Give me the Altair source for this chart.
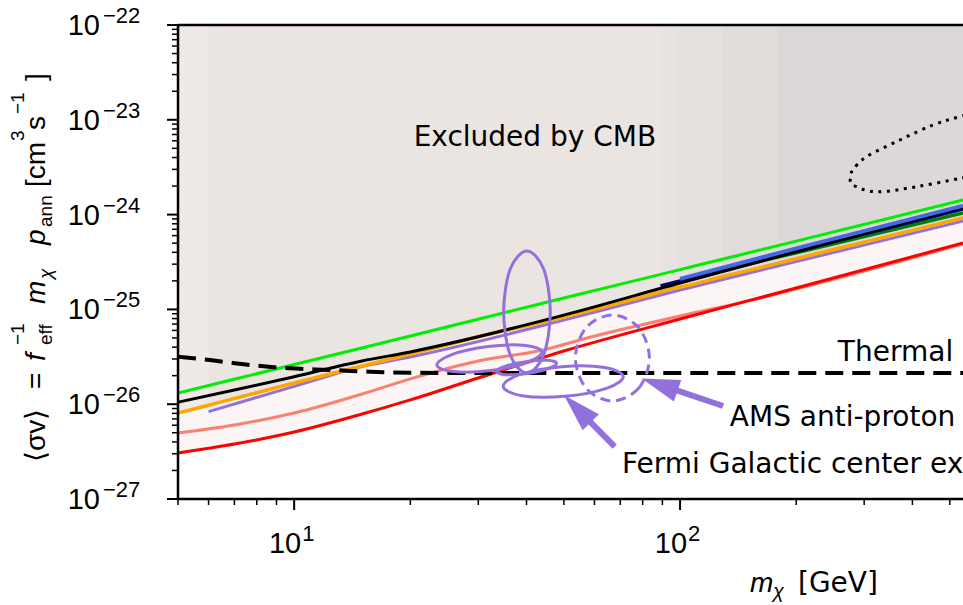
import altair as alt
import pandas as pd

# ------------------------------------------------------------------ data
green_m = [5, 10, 20, 50, 100, 200, 541]
green_sv = [1.31e-26, 2.62e-26, 5.24e-26, 1.32e-25, 2.63e-25, 5.25e-25, 1.43e-24]
black_m = [5, 7, 10, 15, 20, 50, 100, 200, 541]
black_sv = [1.05e-26, 1.41e-26, 1.95e-26, 2.86e-26, 3.56e-26, 8.7e-26, 1.9e-25, 4.06e-25, 1.20e-24]
orange_m = [5, 6, 7, 10, 15, 20, 30, 50, 89, 98, 100, 129, 179, 200, 300, 541]
orange_sv = [8.07e-27, 9.76e-27, 1.148e-26, 1.673e-26, 2.53e-26, 3.385e-26, 5.115e-26, 8.31e-26,
             1.52e-25, 1.70e-25, 1.722e-25, 2.22e-25, 3.056e-25, 3.425e-25, 5.13e-25, 9.21e-25]
purple_m = [6, 10, 15, 20, 50, 100, 200, 541]
purple_sv = [8.34e-27, 1.54e-26, 2.5e-26, 3.15e-26, 7.7e-26, 1.6e-25, 3.2e-25, 8.55e-25]
salmon_m = [5, 7, 10, 15, 20, 30, 44.2, 57.4, 100, 154.5, 200, 541]
salmon_sv = [4.97e-27, 6.04e-27, 8.07e-27, 1.28e-26, 1.85e-26, 2.86e-26, 3.73e-26, 4.99e-26,
             8.51e-26, 1.26e-25, 1.64e-25, 4.9e-25]
red_m = [5, 7, 10, 15, 20, 30, 50, 100, 200, 541]
red_sv = [3.06e-27, 3.80e-27, 5.09e-27, 7.88e-27, 1.11e-26, 1.89e-26, 3.64e-26, 7.92e-26, 1.68e-25, 5.01e-25]
navy_m = [89, 200, 541]
navy_sv = [1.77e-25, 4.09e-25, 1.15e-24]
blue_m = [100, 200, 541]
blue_sv = [2.10e-25, 4.40e-25, 1.24e-24]
dgreen_m = [129, 200, 541]
dgreen_sv = [2.6e-25, 3.96e-25, 1.04e-24]
thermal_m = [5, 6.05, 7.68, 9.75, 12.4, 15.7, 20, 28.5, 541]
thermal_sv = [3.17e-26, 2.92e-26, 2.59e-26, 2.39e-26, 2.30e-26, 2.20e-26, 2.15e-26, 2.13e-26, 2.13e-26]

# Fermi GC excess fit contours
fermi_ids = ["a"] * 8 + ["b"] * 8 + ["c"] * 8 + ["d"] * 8
fermi_m = [40.1, 44.3, 46.1, 44.3, 40.1, 36.3, 34.9, 36.3,
           43.85, 40.27, 32.35, 25.86, 23.44, 25.53, 31.78, 39.74,
           47.87, 45.59, 40.22, 35.40, 33.46, 35.15, 39.83, 45.27,
           71.23, 64.47, 50.17, 38.87, 34.82, 38.46, 49.43, 63.77]
fermi_sv = [4.13e-25, 2.67e-25, 9.39e-26, 3.30e-26, 2.13e-26, 3.30e-26, 9.39e-26, 2.67e-25,
            3.57e-26, 2.77e-26, 2.27e-26, 2.21e-26, 2.58e-26, 3.32e-26, 4.05e-26, 4.17e-26,
            2.70e-26, 2.37e-26, 2.11e-26, 2.05e-26, 2.20e-26, 2.51e-26, 2.81e-26, 2.90e-26,
            1.96e-26, 1.47e-26, 1.21e-26, 1.23e-26, 1.54e-26, 2.06e-26, 2.49e-26, 2.44e-26]
# AMS anti-proton contour
ams_m = [83.27, 78.07, 66.77, 57.12, 53.56, 57.12, 66.77, 78.07]
ams_sv = [3.07e-26, 1.47e-26, 1.08e-26, 1.47e-26, 3.07e-26, 6.43e-26, 8.73e-26, 6.43e-26]
# dotted contour (upper right)
dot_m = [634.8, 530.8, 451.9, 371.1, 304.2, 280.4, 276.5, 280.8, 322.9, 410.0, 530.8, 634.8]
dot_sv = [1.33e-23, 1.08e-23, 8.81e-24, 6.12e-24, 4.08e-24, 2.95e-24, 2.49e-24, 2.05e-24,
          1.74e-24, 1.97e-24, 2.41e-24, 2.81e-24]

# arrows: tail -> head centre
arrow_m = [129.3, 67.7]
arrow_sv = [9.57e-27, 3.56e-27]
arrow_m2 = [88.5, 54.2]
arrow_sv2 = [1.61e-26, 8.94e-27]
arrow_angle = [288.8, 315.4]

# shaded bands of the excluded region
band_start = [5, 6, 89, 98, 129, 179]
band_color = ["#efe9e7", "#ebe5e2", "#e8e3e0", "#e5e1de", "#e0dcda", "#dcd8d8"]

# annotations
ann_center = ["Excluded by CMB"]
ann_center_m = [42.06]
ann_center_sv = [6.43e-24]
ann_left = ["Thermal cross section", "AMS anti-proton excess", "Fermi Galactic center excess"]
ann_left_m = [256.4, 134.6, 70.7]
ann_left_sv = [3.47e-26, 7.14e-27, 2.29e-27]

# ticks
y_major = [1e-27, 1e-26, 1e-25, 1e-24, 1e-23, 1e-22]
y_exp = ["\u221227", "\u221226", "\u221225", "\u221224", "\u221223", "\u221222"]
y_minor = [k * 10.0 ** e for e in range(-27, -22) for k in range(2, 10)]
x_major = [10, 100]
x_exp = ["1", "2"]
x_minor = [5, 6, 7, 8, 9, 20, 30, 40, 50, 60, 70, 80, 90, 200, 300, 400, 500]

# ------------------------------------------------------------------ chart
W, H = 785, 474
F = "Liberation Sans"
FD = "DejaVu Sans"
PURPLE = "#9370db"
xs = alt.Scale(type="log", domain=[5, 541])
ys = alt.Scale(type="log", domain=[1e-27, 1e-22])
one = pd.DataFrame({"a": [0]})


def xq(f="m"):
    return alt.X(f"{f}:Q", scale=xs, axis=None)


def yq(f="sv"):
    return alt.Y(f"{f}:Q", scale=ys, axis=None, stack=None)


def curve(m, sv, color, width, **kw):
    df = pd.DataFrame({"m": m, "sv": sv})
    return alt.Chart(df).mark_line(color=color, strokeWidth=width, clip=True,
                                   interpolate="monotone", **kw).encode(x=xq(), y=yq())


layers = []
# pink region above red curve
layers.append(alt.Chart(pd.DataFrame({"m": red_m, "sv": red_sv})).mark_area(
    color="#fcf5f5", clip=True, interpolate="monotone", orient="vertical", opacity=1).encode(
    x=xq(), y=yq(), y2=alt.value(0)))
# grey excluded region above orange curve
odf = pd.DataFrame({"m": orange_m, "sv": orange_sv})
for s, c in zip(band_start, band_color):
    layers.append(alt.Chart(odf).transform_filter(alt.datum.m >= s).mark_area(
        color=c, clip=True, interpolate="monotone", orient="vertical", opacity=1).encode(
        x=xq(), y=yq(), y2=alt.value(0)))

layers += [
    curve(salmon_m, salmon_sv, "#fa8072", 3),
    curve(red_m, red_sv, "#ff0000", 3),
    curve(purple_m, purple_sv, PURPLE, 3),
    curve(orange_m, orange_sv, "#ffa500", 3.5),
    curve(dgreen_m, dgreen_sv, "#008000", 3.5),
    curve(navy_m, navy_sv, "#000080", 3.5),
    curve(black_m, black_sv, "#000000", 3),
    curve(blue_m, blue_sv, "#4169e1", 4),
    curve(green_m, green_sv, "#00ee00", 3),
    curve(thermal_m, thermal_sv, "#000000", 4, strokeDash=[18, 9]),
]

dot_df = pd.DataFrame({"m": dot_m, "sv": dot_sv, "i": list(range(len(dot_m)))})
layers.append(alt.Chart(dot_df).mark_line(color="black", strokeWidth=3, strokeDash=[3, 5.5],
                                          interpolate="cardinal", clip=True).encode(
    x=xq(), y=yq(), order="i:Q"))

fdf = pd.DataFrame({"m": fermi_m, "sv": fermi_sv, "id": fermi_ids, "i": list(range(len(fermi_m)))})
layers.append(alt.Chart(fdf).mark_line(color=PURPLE, strokeWidth=3, interpolate="cardinal-closed",
                                       clip=True).encode(x=xq(), y=yq(), detail="id:N", order="i:Q"))
adf = pd.DataFrame({"m": ams_m, "sv": ams_sv, "i": list(range(len(ams_m)))})
layers.append(alt.Chart(adf).mark_line(color=PURPLE, strokeWidth=3, strokeDash=[10, 6],
                                       interpolate="cardinal-closed", clip=True).encode(
    x=xq(), y=yq(), order="i:Q"))

# arrows
for i in range(len(arrow_m)):
    d = pd.DataFrame({"m": [arrow_m[i]], "sv": [arrow_sv[i]], "m2": [arrow_m2[i]], "sv2": [arrow_sv2[i]]})
    layers.append(alt.Chart(d).mark_rule(color=PURPLE, strokeWidth=6).encode(
        x=xq(), y=yq(), x2="m2:Q", y2="sv2:Q"))
    layers.append(alt.Chart(d).mark_point(shape="M0,-1L0.6,1L-0.6,1Z", size=1444, filled=True,
                                          opacity=1, color=PURPLE, angle=arrow_angle[i]).encode(
        x=xq("m2"), y=yq("sv2")))

# annotations
layers.append(alt.Chart(pd.DataFrame({"m": ann_center_m, "sv": ann_center_sv, "t": ann_center}))
              .mark_text(font=FD, fontSize=28, align="center", baseline="middle", color="black", clip=True)
              .encode(x=xq(), y=yq(), text="t:N"))
layers.append(alt.Chart(pd.DataFrame({"m": ann_left_m, "sv": ann_left_sv, "t": ann_left}))
              .mark_text(font=FD, fontSize=28, align="left", baseline="middle", color="black", clip=True)
              .encode(x=xq(), y=yq(), text="t:N"))

# frame
layers.append(alt.Chart(one).mark_rule(color="black", strokeWidth=2.5).encode(
    x=alt.value(0), y=alt.value(0), y2=alt.value(H)))
layers.append(alt.Chart(one).mark_rule(color="black", strokeWidth=2.5).encode(
    x=alt.value(0), x2=alt.value(W), y=alt.value(H)))
layers.append(alt.Chart(one).mark_rule(color="black", strokeWidth=2.5).encode(
    x=alt.value(0), x2=alt.value(W), y=alt.value(0)))

# ticks
layers.append(alt.Chart(pd.DataFrame({"v": y_major})).mark_rule(color="black", strokeWidth=2).encode(
    y=alt.Y("v:Q", scale=ys, axis=None), x=alt.value(-11), x2=alt.value(0)))
layers.append(alt.Chart(pd.DataFrame({"v": y_minor})).mark_rule(color="black", strokeWidth=1.5).encode(
    y=alt.Y("v:Q", scale=ys, axis=None), x=alt.value(-6), x2=alt.value(0)))
layers.append(alt.Chart(pd.DataFrame({"v": x_major})).mark_rule(color="black", strokeWidth=2).encode(
    x=alt.X("v:Q", scale=xs, axis=None), y=alt.value(H), y2=alt.value(H + 11)))
layers.append(alt.Chart(pd.DataFrame({"v": x_minor})).mark_rule(color="black", strokeWidth=1.5).encode(
    x=alt.X("v:Q", scale=xs, axis=None), y=alt.value(H), y2=alt.value(H + 6)))

# tick labels
ydf = pd.DataFrame({"v": y_major, "e": y_exp})
layers.append(alt.Chart(ydf).mark_text(font=F, fontSize=29, align="right", baseline="middle", dy=1,
                                       color="black").encode(
    y=alt.Y("v:Q", scale=ys, axis=None), x=alt.value(-78), text=alt.value("10")))
layers.append(alt.Chart(ydf).mark_text(font=F, fontSize=22, align="left", baseline="middle", dy=-9,
                                       color="black").encode(
    y=alt.Y("v:Q", scale=ys, axis=None), x=alt.value(-75), text="e:N"))
xdf = pd.DataFrame({"v": x_major, "e": x_exp})
layers.append(alt.Chart(xdf).mark_text(font=F, fontSize=29, align="right", baseline="alphabetic", dx=7,
                                       color="black").encode(
    x=alt.X("v:Q", scale=xs, axis=None), y=alt.value(528), text=alt.value("10")))
layers.append(alt.Chart(xdf).mark_text(font=F, fontSize=22, align="left", baseline="alphabetic", dx=8,
                                       color="black").encode(
    x=alt.X("v:Q", scale=xs, axis=None), y=alt.value(516), text="e:N"))


def lbl(s, x, y, size, angle=0, italic=False, font=F):
    kw = dict(font=font, fontSize=size, align="left", baseline="alphabetic", color="black", text=s)
    if angle:
        kw["angle"] = angle
    if italic:
        kw["fontStyle"] = "italic"
    return alt.Chart(one).mark_text(**kw).encode(x=alt.value(x), y=alt.value(y))


# x-axis title
layers += [lbl("m", 572, 567, 28, italic=True), lbl("\u03c7", 595, 573, 20, italic=True),
           lbl("[GeV]", 620, 567, 28, font=FD)]
# y-axis title (rotated)
bx, sup, sub = -133, -154, -126
layers += [
    lbl("\u27e8\u03c3v\u27e9", bx, 437, 28, 270),
    lbl("=", bx, 364, 28, 270),
    lbl("f", bx, 336, 28, 270, True),
    lbl("\u22121", sup, 320, 19, 270),
    lbl("eff", sub, 320, 19, 270),
    lbl("m", bx, 279, 28, 270, True),
    lbl("\u03c7", sub, 254, 19, 270, True),
    lbl("p", bx, 220, 28, 270, True),
    lbl("ann", sub, 202, 19, 270),
    lbl("[cm", bx, 162, 28, 270),
    lbl("3", sup, 116, 19, 270),
    lbl("s", bx, 105, 28, 270),
    lbl("\u22121", sup, 89, 19, 270),
    lbl("]", bx, 56, 28, 270),
]

chart = alt.layer(*layers).properties(
    width=W, height=H,
    autosize=alt.AutoSizeParams(type="none"),
    padding={"left": 178, "top": 25, "right": 0, "bottom": 106},
    background="white",
).configure_view(stroke=None)

chart.save("out.html", embed_options={"renderer": "svg", "actions": False})
